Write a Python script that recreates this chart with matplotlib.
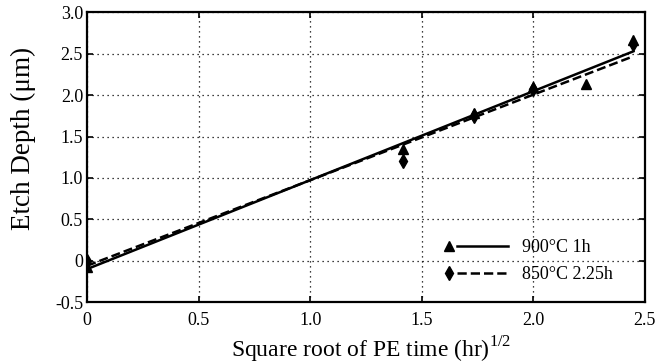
import matplotlib
matplotlib.use("Agg")
import matplotlib.pyplot as plt
from matplotlib.legend_handler import HandlerBase
from matplotlib.lines import Line2D

# measured points: x = sqrt(PE time), y = etch depth (um)
x_900 = [0.0, 1.414, 1.732, 2.0, 2.236, 2.449]
y_900 = [-0.07, 1.35, 1.78, 2.10, 2.14, 2.67]
x_850 = [0.0, 1.414, 1.732, 2.0, 2.449]
y_850 = [0.0, 1.20, 1.75, 2.08, 2.62]

# fitted lines (end points)
fit_x = [0.0, 2.449]
fit_900 = [-0.10, 2.53]
fit_850 = [-0.06, 2.47]

xticks = [0, 0.5, 1.0, 1.5, 2.0, 2.5]
xtick_labels = ["0", "0.5", "1.0", "1.5", "2.0", "2.5"]
yticks = [-0.5, 0, 0.5, 1.0, 1.5, 2.0, 2.5, 3.0]
ytick_labels = ["-0.5", "0", "0.5", "1.0", "1.5", "2.0", "2.5", "3.0"]

DASH = (0, (3.6, 1.6))


class MarkerFirst(HandlerBase):
    """marker on the left, line to its right (like the original legend)"""
    def create_artists(self, legend, orig_handle, xdescent, ydescent,
                       width, height, fontsize, trans):
        x0 = -xdescent
        y = (height - ydescent) / 2
        line = Line2D([x0 + 0.2 * width, x0 + width], [y, y],
                      color=orig_handle.get_color(), lw=orig_handle.get_linewidth(),
                      ls=orig_handle.get_linestyle())
        mark = Line2D([x0 + 3], [y], ls="none", marker=orig_handle.get_marker(),
                      ms=orig_handle.get_markersize(), color=orig_handle.get_color())
        line.set_transform(trans)
        mark.set_transform(trans)
        return [line, mark]


plt.rcParams["font.family"] = ["Liberation Serif", "DejaVu Serif"]
plt.rcParams["mathtext.fontset"] = "custom"
plt.rcParams["mathtext.rm"] = "Liberation Serif"

fig = plt.figure(figsize=(6.71, 3.64), dpi=100)
ax = fig.add_axes([0.130, 0.170, 0.831, 0.796])

ax.plot(fit_x, fit_900, color="black", lw=1.8, ls="-")
ax.plot(fit_x, fit_850, color="black", lw=1.8, ls=DASH)
ax.plot(x_900, y_900, ls="none", marker="^", ms=7, color="black")
ax.plot(x_850, y_850, ls="none", marker="d", ms=7, color="black")

ax.set_xlim(0, 2.5)
ax.set_ylim(-0.5, 3.0)
ax.set_xticks(xticks)
ax.set_xticklabels(xtick_labels)
ax.set_yticks(yticks)
ax.set_yticklabels(ytick_labels)
ax.tick_params(direction="in", length=4, width=1.2, labelsize=13,
               top=True, right=True)
ax.tick_params(axis="y", pad=3)
ax.tick_params(axis="x", pad=7)
ax.grid(True, color="black", ls=(0, (1, 3)), lw=0.9)
for s in ax.spines.values():
    s.set_linewidth(1.6)

ax.set_xlabel(r"Square root of PE time (hr)$^{\mathrm{1/2}}$", fontsize=17)
ax.xaxis.set_label_coords(0.51, -0.112)
ax.set_ylabel("Etch Depth (\u03bcm)", fontsize=19.5)
ax.yaxis.set_label_coords(-0.092, 0.564)

h1 = Line2D([], [], color="black", lw=1.8, ls="-", marker="^", ms=7)
h2 = Line2D([], [], color="black", lw=1.8, ls=DASH, marker="d", ms=7)
ax.legend([h1, h2], ["900\u00b0C 1h", "850\u00b0C 2.25h"],
          handler_map={Line2D: MarkerFirst()}, loc="lower right",
          bbox_to_anchor=(0.972, 0.01), frameon=False, fontsize=13,
          handlelength=3.5, handletextpad=0.8, labelspacing=0.55)

fig.savefig("out.png", dpi=100)
